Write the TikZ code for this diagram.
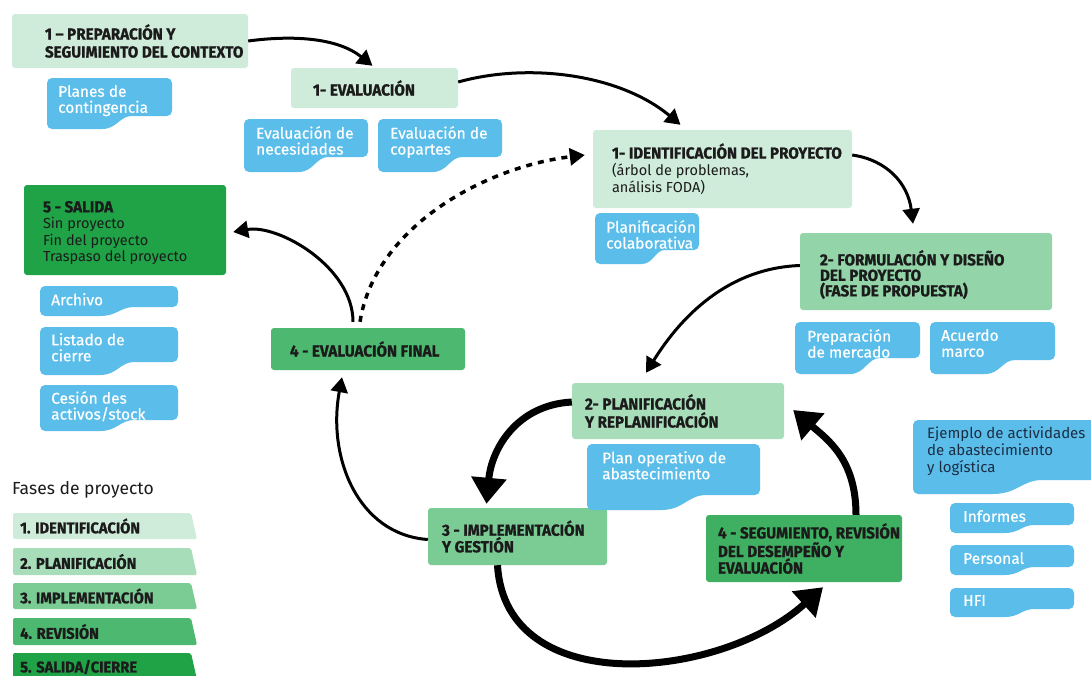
\documentclass[tikz,border=0pt]{standalone}
\usepackage{fontspec}
\setmainfont{Fira Sans}
\newfontfamily\condf[FakeStretch=0.95, BoldFeatures={FakeBold=1}]{Fira Sans}
\newfontfamily\tagf[FakeBold=0.4]{Fira Sans}
\usetikzlibrary{arrows.meta}
\definecolor{cA}{HTML}{CFEBDA}
\definecolor{cB}{HTML}{A8DDBA}
\definecolor{cF}{HTML}{93D4A8}
\definecolor{cC}{HTML}{7BCB95}
\definecolor{cD}{HTML}{4DB86F}
\definecolor{cD2}{HTML}{3FB062}
\definecolor{cE}{HTML}{1FA346}
\definecolor{tagc}{HTML}{5BBEEA}
\definecolor{txt}{HTML}{1B1B1B}
\definecolor{navy}{HTML}{1D2D44}
\newcommand\tagshape[5]{%
  \pgfmathsetmacro\tgw{#3-#1}%
  \fill[tagc, rounded corners=5pt] (#1,#2) -- (#3,#2) -- (#3,{#4-#5}) -- ({#1+0.72*\tgw},{#4-#5}) .. controls ({#1+0.58*\tgw},{#4-#5}) and ({#1+0.56*\tgw},#4) .. ({#1+0.4*\tgw},#4) -- (#1,#4) -- cycle;
}
\tikzset{
  pbox/.style={rounded corners=3pt, inner sep=0pt},
  ptext/.style={font=\condf\bfseries\fontsize{16}{17}\selectfont, align=left, inner sep=0pt, text=txt},
  mtext/.style={font=\fontsize{14.5}{17}\selectfont, align=left, inner sep=0pt, text=txt},
  tagtext/.style={font=\tagf\fontsize{15.5}{16}\selectfont, align=left, inner sep=0pt, text=white, anchor=north west},
  legtext/.style={font=\condf\bfseries\fontsize{15.5}{16}\selectfont, inner sep=0pt, text=txt, anchor=west},
  arr/.style={line width=3pt, -{Triangle[length=15pt,width=17pt]}},
  tarr/.style={line width=7pt, -{Triangle[length=26pt,width=34pt]}},
  dotarr/.style={line width=3.5pt, dash pattern=on 6pt off 6pt, -{Triangle[length=15pt,width=17pt]}}
}
\begin{document}
\begin{tikzpicture}[x=1pt,y=-1pt]
\useasboundingbox (0,0) rectangle (1091,675);
\fill[white] (0,0) rectangle (1091,675);
\clip (0,0) rectangle (1091,675);

% phase boxes
\node[pbox, fill=cA, minimum width=236, minimum height=54] (prep) at (130,41) {};
\node[ptext, anchor=west, font=\condf\bfseries\fontsize{16}{18}\selectfont] (prept) at ([xshift=33pt]prep.west) {1 – PREPARACIÓN Y\\SEGUIMIENTO DEL CONTEXTO};

\node[pbox, fill=cA, minimum width=167, minimum height=40] (eval) at (374.5,88) {};
\node[ptext, anchor=west] (evalt) at ([xshift=22pt]eval.west) {1- EVALUACIÓN};

\node[pbox, fill=cA, minimum width=259, minimum height=78] (ident) at (722.5,169) {};
\node[mtext, anchor=west] (identt) at ([xshift=19pt]ident.west) {{\condf\bfseries\fontsize{16}{17}\selectfont 1- IDENTIFICACIÓN DEL PROYECTO}\\(árbol de problemas,\\análisis FODA)};

\node[pbox, fill=cF, minimum width=252, minimum height=77] (form) at (926,271.5) {};
\node[ptext, anchor=west, font=\condf\bfseries\fontsize{16}{15.5}\selectfont] (formt) at ([xshift=20pt,yshift=-3pt]form.west) {2- FORMULACIÓN Y DISEÑO\\DEL PROYECTO\\(FASE DE PROPUESTA)};

\node[pbox, fill=cE, minimum width=202, minimum height=90] (salida) at (125,230) {};
\node[mtext, anchor=west, font=\fontsize{14.5}{16.5}\selectfont] (salidat) at ([xshift=19pt,yshift=-3pt]salida.west) {{\condf\bfseries\fontsize{16}{16.5}\selectfont 5 - SALIDA}\\Sin proyecto\\Fin del proyecto\\Traspaso del proyecto};

\node[pbox, fill=cD, minimum width=194, minimum height=42] (evfin) at (368,349) {};
\node[ptext, anchor=west] (evfint) at ([xshift=19pt]evfin.west) {4 - EVALUACIÓN FINAL};

\node[pbox, fill=cB, minimum width=212, minimum height=56] (plan) at (678,411) {};
\node[ptext, anchor=west, font=\condf\bfseries\fontsize{16}{18}\selectfont] (plant) at ([xshift=13pt]plan.west) {2- PLANIFICACIÓN\\Y REPLANIFICACIÓN};

\node[pbox, fill=cC, minimum width=179, minimum height=57] (impl) at (517.5,536.5) {};
\node[ptext, anchor=west, font=\condf\bfseries\fontsize{16}{15.5}\selectfont] (implt) at ([xshift=14pt]impl.west) {3 - IMPLEMENTACIÓN\\Y GESTIÓN};

\node[pbox, fill=cD2, minimum width=196, minimum height=67] (seg) at (804,548.5) {};
\node[ptext, anchor=west, font=\condf\bfseries\fontsize{16}{15.5}\selectfont] (segt) at ([xshift=12pt]seg.west) {4 - SEGUMIENTO, REVISIÓN\\DEL DESEMPEÑO Y\\EVALUACIÓN};

% blue tags
\tagshape{47}{78}{172}{129}{13}
\node[tagtext] (planes) at (58,85) {Planes de\\contingencia};
\tagshape{244}{119}{368}{172}{15}
\node[tagtext] (evnec) at (256,126) {Evaluación de\\necesidades};
\tagshape{378}{119}{502}{172}{15}
\node[tagtext] (evcop) at (390,126) {Evaluación de\\copartes};
\tagshape{595}{213}{699}{264}{14}
\node[tagtext] (placol) at (606,220) {Planificación\\colaborativa};
\tagshape{795}{322}{920}{374}{16}
\node[tagtext] (prepm) at (807,329) {Preparación\\de mercado};
\tagshape{930}{322}{1055}{374}{14}
\node[tagtext] (acuerdo) at (941,329) {Acuerdo\\marco};
\tagshape{40}{286}{178}{316}{9}
\node[tagtext] (archivo) at (51,293) {Archivo};
\tagshape{40}{327}{178}{375}{13}
\node[tagtext] (listado) at (51,333) {Listado de\\cierre};
\tagshape{40}{385}{178}{431}{11}
\node[tagtext] (cesion) at (51,391) {Cesión des\\activos/stock};
\tagshape{587}{444}{760}{510}{15}
\node[tagtext] (planop) at (602,451) {Plan operativo de\\abastecimiento};
\tagshape{913}{420}{1100}{494}{14}
\node[tagtext, text=navy, font=\fontsize{15}{17}\selectfont] (ejemplo) at (927,427) {Ejemplo de actividades\\de abastecimiento\\y logística};
\tagshape{950}{503}{1074}{533}{8}
\node[tagtext] (informes) at (963,510) {Informes};
\tagshape{950}{545}{1074}{575}{8}
\node[tagtext] (personal) at (963,552) {Personal};
\tagshape{950}{588}{1074}{617}{8}
\node[tagtext] (hfi) at (963,595) {HFI};

% legend
\node[font=\fontsize{17.5}{19}\selectfont, text=txt, anchor=base west, inner sep=0pt] (legt) at (12,494) {Fases de proyecto};
\fill[cA, rounded corners=2pt] (13,513) -- (191,513) -- (197,539) -- (13,539) -- cycle;
\node[legtext] (leg1) at (20,526) {1. IDENTIFICACIÓN};
\fill[cB, rounded corners=2pt] (13,548) -- (191,548) -- (197,575) -- (13,575) -- cycle;
\node[legtext] (leg2) at (20,561.5) {2. PLANIFICACIÓN};
\fill[cC, rounded corners=2pt] (13,583) -- (191,583) -- (197,609) -- (13,609) -- cycle;
\node[legtext] (leg3) at (20,596) {3. IMPLEMENTACIÓN};
\fill[cD, rounded corners=2pt] (13,618) -- (191,618) -- (197,645) -- (13,645) -- cycle;
\node[legtext] (leg4) at (20,631.5) {4. REVISIÓN};
\fill[cE, rounded corners=2pt] (13,653) -- (191,653) -- (198,684) -- (13,684) -- cycle;
\node[legtext] (leg5) at (20,667) {5. SALIDA/CIERRE};

% connectors
\draw[arr] (prep.east) .. controls +(45,-6) and +(-35,-28) .. ([xshift=-2pt,yshift=2pt]eval.north);
\draw[arr] ([yshift=6pt]eval.east) .. controls +(72,-20) and +(-60,-50) .. ([xshift=-42pt,yshift=5pt]ident.north);
\draw[arr] ([yshift=14pt]ident.east) .. controls +(35,5) and +(-5,-40) .. ([xshift=-13pt,yshift=9pt]form.north);
\draw[arr] ([yshift=6pt]form.west) .. controls +(-80,3) and +(28,-45) .. ([xshift=-32pt,yshift=10pt]plan.north);
\draw[tarr] ([yshift=9pt]plan.west) .. controls +(-55,3) and +(5,-55) .. ([xshift=-31pt,yshift=4pt]impl.north);
\draw[tarr] ([xshift=-20pt]impl.south) .. controls +(8,135) and +(-103,93) .. ([xshift=19pt,yshift=-5pt]seg.south);
\draw[tarr] ([xshift=52pt]seg.north) .. controls +(0,-55) and +(35,30) .. ([xshift=9pt,yshift=1pt]plan.east);
\draw[arr] ([yshift=-3pt]impl.west) .. controls +(-70,-5) and +(-15,80) .. ([xshift=-26pt,yshift=-7pt]evfin.south);
\draw[arr] ([xshift=-15pt,yshift=6pt]evfin.north) .. controls +(0,-55) and +(45,-8) .. ([xshift=7pt,yshift=-2pt]salida.east);
\draw[dotarr] ([xshift=-8pt,yshift=6pt]evfin.north) .. controls +(15,-95) and +(-100,12) .. ([xshift=-8pt,yshift=14pt]ident.west);
\end{tikzpicture}
\end{document}
